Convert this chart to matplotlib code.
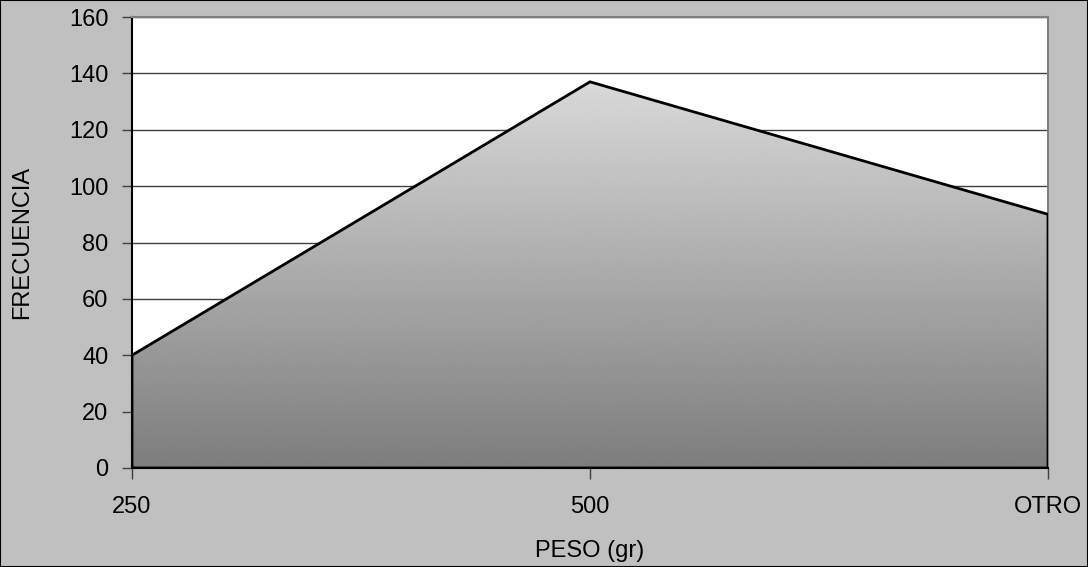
import numpy as np
import matplotlib
matplotlib.use("Agg")
import matplotlib.pyplot as plt
from matplotlib.patches import Polygon, Rectangle

plt.rcParams['font.family'] = ['Liberation Sans', 'DejaVu Sans']

categories = ["250", "500", "OTRO"]
frecuencia = [40, 137, 90]

fig = plt.figure(figsize=(10.88, 5.67), dpi=100, facecolor="#c0c0c0")
ax = fig.add_axes([132 / 1088, 99 / 567, 916 / 1088, 451 / 567])
ax.set_facecolor("white")

x = np.arange(len(categories))

# area polygon with vertical grey gradient
verts = [(x[0], 0)] + list(zip(x, frecuencia)) + [(x[-1], 0)]
poly = Polygon(verts, closed=True, facecolor="none", edgecolor="black", lw=2, zorder=3)
ax.add_patch(poly)
ymax = max(frecuencia)
grad = np.linspace(0.49, 0.85, 256).reshape(-1, 1)
img = ax.imshow(grad, cmap="gray", vmin=0, vmax=1, origin="lower", aspect="auto",
                extent=[x[0], x[-1], 0, ymax], zorder=2, interpolation="bilinear")
clip = Polygon(verts, closed=True, transform=ax.transData, facecolor="none", edgecolor="none")
ax.add_patch(clip)
img.set_clip_path(clip)
ax.set_xlim(x[0], x[-1])
ax.set_ylim(0, 160)

ax.set_yticks(range(0, 161, 20))
ax.yaxis.grid(True, color="#404040", lw=1)
ax.set_axisbelow(True)
ax.set_xticks(x)
ax.set_xticklabels(categories)

for s in ["top", "right"]:
    ax.spines[s].set_color("#808080")
    ax.spines[s].set_linewidth(1.5)
for s in ["left", "bottom"]:
    ax.spines[s].set_color("black")
    ax.spines[s].set_linewidth(1.5)

ax.tick_params(axis="y", direction="out", length=7, width=1, color="#404040",
               labelsize=17, pad=10)
ax.tick_params(axis="x", direction="out", length=8, width=1, color="#404040",
               labelsize=17, pad=12)

ax.set_xlabel("PESO (gr)", fontsize=17, va="center")
ax.xaxis.set_label_coords(0.5, -0.185)
ax.set_ylabel("FRECUENCIA", fontsize=17, va="center")
ax.yaxis.set_label_coords(-0.12, 0.5)

fig.patches.append(Rectangle((0, 0), 1, 1, transform=fig.transFigure, fill=False,
                             edgecolor="black", lw=1.5))

fig.savefig("out.png", dpi=100, facecolor=fig.get_facecolor())
